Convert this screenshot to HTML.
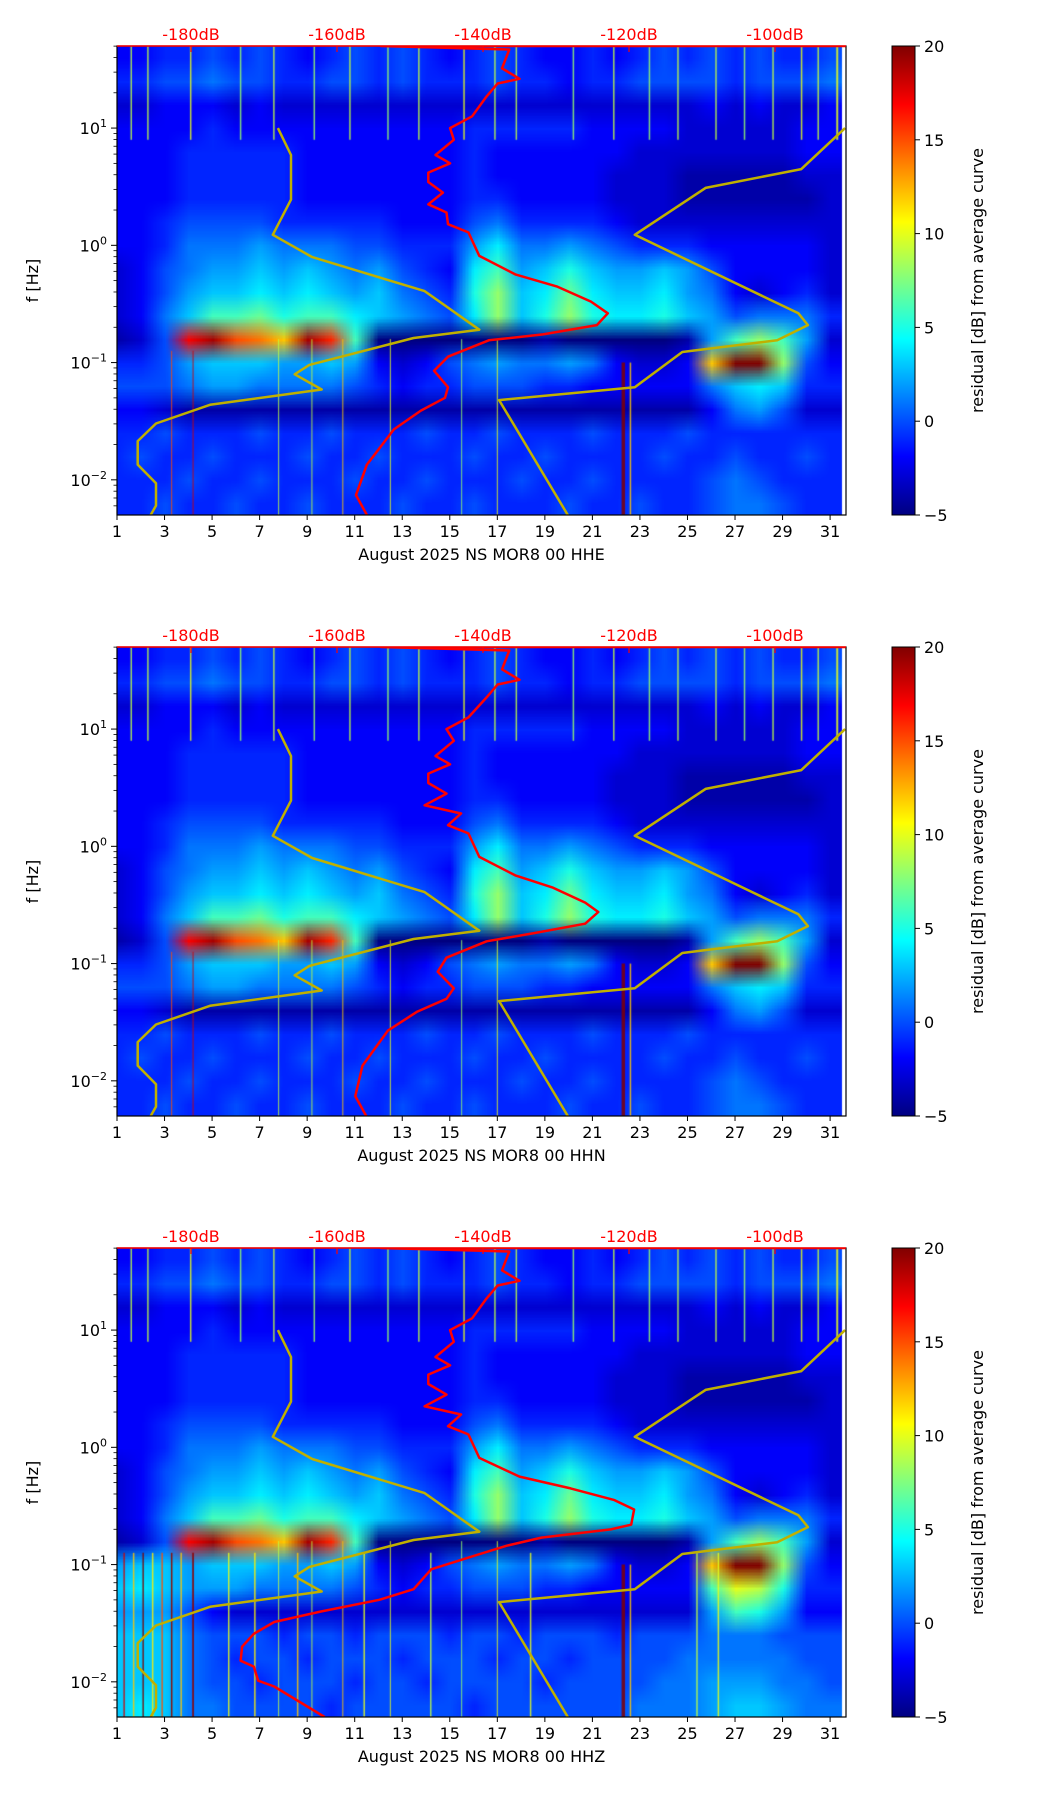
<!DOCTYPE html>
<html><head><meta charset="utf-8"><style>
html,body{margin:0;padding:0;background:#fff;}
#wrap{position:relative;width:1052px;height:1806px;overflow:hidden;font-family:"DejaVu Sans","Liberation Sans",sans-serif;}
canvas,svg{position:absolute;left:0;top:0;}
</style></head><body>
<div id="wrap">
<canvas id="hm" width="1052" height="1806"></canvas>
<svg id="ov" width="1052" height="1806" xmlns="http://www.w3.org/2000/svg"></svg>
</div>
<script>
// ---------- data ----------
const panelTitles = ["August 2025 NS MOR8 00 HHE","August 2025 NS MOR8 00 HHN","August 2025 NS MOR8 00 HHZ"];
const dayTicks = [1,3,5,7,9,11,13,15,17,19,21,23,25,27,29,31];
const dbTicks = [-180,-160,-140,-120,-100];
const decadeTicks = [-2,-1,0,1];
const cbTicks = [-5,0,5,10,15,20];
const rowLogF = [1.6,1.4,1.2,1.0,0.8,0.6,0.4,0.2,0.0,-0.2,-0.4,-0.6,-0.8,-1.0,-1.2,-1.4,-1.6,-1.8,-2.0,-2.2];
const gridHH = [
[-2,-2,-1,-1,0,-1,0,-1,-2,-1,0,-1,0,-1,-2,-1,0,-1,-2,-2,-1,-2,-1,0,-1,0,-1,0,-1,-1,0],
[-1,-1,0,0,1,0,0,-1,-1,0,0,-1,0,-1,-1,-1,0,-1,-1,-2,-1,-1,0,0,0,0,-1,0,0,0,1],
[-3,-3,-2,-2,-2,-3,-2,-3,-3,-3,-3,-3,-3,-3,-3,-3,-3,-3,-3,-3,-3,-3,-3,-3,-3,-2,-3,-2,-3,-3,-2],
[-2,-2,-2,-2,-1,-2,-2,-2,-2,-2,-2,-2,-2,-2,-2,-1,-1,-1,-1,-1,-2,-2,-2,-2,-3,-3,-3,-3,-3,-2,-2],
[-2,-2,-2,-1,-1,-1,-1,-1,-2,-2,-2,-2,-2,-2,-2,-1,-2,-2,-2,-2,-2,-2,-3,-3,-3,-3,-3,-3,-3,-2,-2],
[-2,-2,-2,-1,-1,-1,-1,-1,-2,-2,-2,-2,-2,-2,-2,-1,-2,-2,-2,-2,-2,-3,-3,-3,-4,-4,-4,-4,-4,-3,-3],
[-2,-2,-2,-1,-1,-1,-1,-1,-2,-2,-2,-2,-2,-2,-2,-1,-1,-2,-2,-2,-2,-3,-3,-3,-4,-4,-4,-4,-4,-4,-3],
[-2,-2,-1,0,0,0,0,-1,-1,-1,-1,-1,-2,-2,-2,0,1,-1,-1,-1,-1,-2,-3,-3,-3,-3,-3,-3,-3,-3,-3],
[-2,-2,-1,1,1,1,2,1,1,1,0,0,-1,-1,-1,2,4,1,1,2,1,0,-1,-1,-1,-2,-2,-2,-2,-2,-3],
[-3,-2,0,1,2,2,3,2,3,2,1,2,0,-1,-2,4,6,2,3,5,3,2,2,3,2,0,-2,-2,-2,-2,-3],
[-3,-2,0,2,3,3,4,3,4,3,2,3,1,0,-1,5,8,3,4,7,4,3,3,4,2,1,-2,-3,-2,-1,-3],
[-3,-2,1,3,6,6,7,5,6,6,4,3,2,1,0,4,8,3,5,8,5,4,4,5,3,2,0,1,1,1,-1],
[-4,-3,0,17,19,15,14,12,19,16,6,-5,-5,-5,-5,-5,-5,-5,-4,-5,-5,-5,-5,-5,-4,2,6,8,6,2,-3],
[-1,-1,0,2,3,3,3,2,2,3,2,-2,-3,-2,0,1,2,1,1,2,1,-2,-3,-3,-2,12,20,20,8,0,-2],
[0,0,0,1,2,2,1,1,1,1,0,-1,-2,-1,-1,0,0,0,-1,-1,-2,-2,-2,-2,-2,1,3,4,3,-1,-1],
[-2,-2,-3,-4,-4,-4,-4,-4,-4,-4,-4,-4,-4,-4,-4,-4,-4,-4,-4,-4,-4,-4,-4,-4,-4,-2,1,2,0,-3,-3],
[-1,-1,0,-1,-1,-1,0,-1,-1,0,-1,-1,-1,0,-1,-1,0,-1,-1,-1,0,-1,-1,-1,0,-1,-1,-1,-1,-1,-1],
[-1,0,-1,-1,0,-1,-1,-1,0,-1,-1,0,-1,-1,-1,0,-1,-1,0,-1,-1,-1,-1,0,-1,-1,0,-1,-1,0,-1],
[-1,-1,-1,0,-1,-1,0,-1,-1,-1,0,-1,-1,0,-1,-1,-1,0,-1,-1,0,-1,-1,-1,-1,0,1,0,-1,-1,-1],
[-1,-1,0,-1,-1,0,-1,-1,0,-1,-1,-1,0,-1,-1,0,-1,-1,-1,0,-1,-1,0,-1,-1,0,1,1,0,-1,-1]
];
const gridHHZlow = [
[2,3,3,2,3,3,3,2,2,3,2,-2,-3,-2,0,1,2,1,1,2,1,-2,-3,-3,-2,12,20,20,8,0,-2],
[3,4,3,2,2,2,1,1,1,1,0,-1,-2,-1,-1,0,0,0,-1,-1,-2,-2,-2,-2,-2,6,10,9,5,-1,-1],
[2,2,2,0,-2,-3,-3,-3,-3,-3,-3,-3,-3,-3,-3,-3,-3,-3,-3,-3,-3,-3,-3,-3,-3,2,6,5,2,-2,-2],
[3,3,3,1,0,0,0,-1,0,0,-1,0,0,0,-1,0,0,-1,0,0,0,-1,0,0,0,1,1,1,0,0,0],
[3,3,3,1,0,-1,0,0,-1,0,0,0,-1,0,0,0,-1,0,0,-1,0,0,0,0,1,1,1,1,1,0,0],
[3,3,3,1,0,0,-1,0,0,0,-1,0,0,-1,0,0,0,0,-1,0,0,0,0,1,1,2,2,2,1,1,0],
[3,4,3,1,1,0,0,0,0,-1,0,0,0,0,0,-1,0,0,0,0,0,0,1,1,1,2,3,3,2,1,1]
];
// streaks: [day, logF top, logF bottom, value, width]
const streakDay = [1.6,2.3,4.1,6.2,7.6,9.3,10.8,12.4,13.7,15.6,16.9,17.8,20.2,21.9,23.4,24.6,26.2,27.4,28.6,29.8,30.5,31.3,22.3,22.6,4.2,3.3,10.5,15.5,17,12.5,7.8,9.2];
const streakTop = [1.7,1.7,1.7,1.7,1.7,1.7,1.7,1.7,1.7,1.7,1.7,1.7,1.7,1.7,1.7,1.7,1.7,1.7,1.7,1.7,1.7,1.7,-1.0,-1.0,-0.9,-0.9,-0.8,-0.8,-0.8,-0.8,-0.8,-0.8];
const streakBot = [0.9,0.9,0.9,0.9,0.9,0.9,0.9,0.9,0.9,0.9,0.9,0.9,0.9,0.9,0.9,0.9,0.9,0.9,0.9,0.9,0.9,0.9,-2.3,-2.3,-2.3,-2.3,-2.3,-2.3,-2.3,-2.3,-2.3,-2.3];
const streakVal = [9,9,10,8,9,8,9,8,9,10,9,9,8,9,8,9,9,8,9,10,9,10,20,12,18,15,12,8,10,10,9,9];
const streakW = [1.5,1.5,1.5,1.5,1.5,1.5,1.5,1.5,1.5,1.5,1.5,1.5,1.5,1.5,1.5,1.5,1.5,1.5,1.5,1.5,1.5,2,3.5,1.5,1,1,1,1,1,1,1,1];
const zStreakDay = [1.3,1.7,2.1,2.5,2.9,3.3,3.7,4.2,5.7,6.8,8.6,11.4,14.2,18.4,25.4,26.3];
const zStreakVal = [18,12,20,11,15,20,12,20,10,11,12,10,9,10,9,10];
// average PSD curves (logF, dB)
const redLogF_HHE = [1.7,1.7,1.67,1.51,1.42,1.38,1.27,1.10,1.0,0.9,0.77,0.7,0.62,0.54,0.45,0.35,0.28,0.18,0.11,-0.09,-0.25,-0.35,-0.48,-0.58,-0.68,-0.76,-0.81,-0.95,-1.07,-1.21,-1.30,-1.41,-1.57,-1.87,-2.13,-2.3];
const redDb_HHE = [-90,-154,-136.4,-137.4,-135,-138,-139.5,-141.5,-144.5,-144,-146.5,-144.5,-147.5,-147.5,-145.5,-147.5,-145,-144.8,-142,-140.5,-135.5,-129.9,-125.2,-122.9,-124.4,-131.8,-139.2,-144.8,-146.7,-144.8,-145.2,-148.5,-152.2,-155.9,-157.4,-155.9];
const redLogF_HHN = [1.7,1.7,1.67,1.51,1.42,1.38,1.27,1.10,1.0,0.9,0.77,0.7,0.62,0.54,0.45,0.35,0.28,0.18,0.11,-0.09,-0.25,-0.35,-0.48,-0.56,-0.66,-0.74,-0.81,-0.95,-1.07,-1.21,-1.30,-1.41,-1.57,-1.87,-2.13,-2.3];
const redDb_HHN = [-90,-154,-136.4,-137.4,-135,-138,-139.5,-142,-145,-144,-146.5,-144.5,-147.5,-147.5,-145,-148,-143,-144.8,-142,-140.5,-135.5,-130.5,-126,-124.2,-126,-133,-139.5,-145,-146.2,-144,-145,-149,-153,-156.5,-157.5,-156];
const redLogF_HHZ = [1.7,1.7,1.67,1.51,1.42,1.38,1.27,1.10,1.0,0.9,0.77,0.7,0.62,0.54,0.45,0.35,0.28,0.18,0.11,-0.09,-0.25,-0.35,-0.45,-0.53,-0.66,-0.70,-0.77,-0.84,-0.93,-1.04,-1.21,-1.30,-1.40,-1.49,-1.59,-1.70,-1.82,-1.87,-1.99,-2.04,-2.3];
const redDb_HHZ = [-90,-154,-136.4,-137.4,-135,-138,-139.5,-141.5,-144.5,-144,-146.5,-144.5,-147.5,-147.5,-145,-148,-143,-144.8,-142,-140.5,-135,-128,-122,-119.3,-119.7,-122.5,-132,-136.8,-141.5,-147.1,-149.5,-154.2,-162.2,-168.6,-171.4,-173,-173.2,-171.4,-170.8,-168.6,-161.7];
const nlnmLogF = [1.0,0.77,0.39,0.09,-0.10,-0.39,-0.72,-0.79,-1.02,-1.10,-1.23,-1.36,-1.52,-1.67,-1.87,-2.03,-2.22,-2.33];
const nlnmDb = [-168.1,-166.3,-166.3,-168.8,-163.4,-148.0,-140.5,-149.5,-163.8,-165.8,-162.1,-177.4,-184.8,-187.3,-187.3,-184.8,-184.8,-185.8];
const nhnmLogF = [1.0,0.65,0.49,0.09,-0.58,-0.68,-0.81,-0.91,-1.21,-1.32,-2.33];
const nhnmDb = [-90.4,-96.4,-109.5,-119.2,-96.8,-95.5,-99.7,-112.7,-119.2,-137.8,-128.1];

// ---------- layout ----------
const X0=117, X1=846, PH=469, TOPS=[46,647,1248], DAYPX=23.77, DEC=117.25;
const CBX=892, CBW=23;
const xDay = d => X0 + (d-1)*DAYPX;
const yF = (lf,top) => top + (1.7-lf)*DEC;
const xDb = db => 191 + (db+180)*7.3;
const vToFrac = v => Math.max(0,Math.min(1,(v+5)/25));
function jet(t){
  const c = x => Math.round(255*Math.max(0,Math.min(1,x)));
  return [c(1.5-Math.abs(4*t-3)), c(1.5-Math.abs(4*t-2)), c(1.5-Math.abs(4*t-1))];
}
const NS="http://www.w3.org/2000/svg";
const svg=document.getElementById('ov');
function mk(tag, attrs, parent){
  const e=document.createElementNS(NS,tag);
  for(const k in attrs) e.setAttribute(k,attrs[k]);
  (parent||svg).appendChild(e); return e;
}
const ctx=document.getElementById('hm').getContext('2d');

function gridFor(p){
  if(p<2) return gridHH;
  return gridHH.slice(0,13).concat(gridHHZlow);
}

for(let p=0;p<3;p++){
  const top=TOPS[p], bot=top+PH;
  const grid=gridFor(p);
  const oc=document.createElement('canvas'); oc.width=31; oc.height=rowLogF.length;
  const octx=oc.getContext('2d'); const img=octx.createImageData(31,rowLogF.length);
  for(let r=0;r<rowLogF.length;r++) for(let c=0;c<31;c++){
    const col=jet(vToFrac(grid[r][c])); const i=(r*31+c)*4;
    img.data[i]=col[0]; img.data[i+1]=col[1]; img.data[i+2]=col[2]; img.data[i+3]=255;
  }
  octx.putImageData(img,0,0);
  ctx.save(); ctx.beginPath(); ctx.rect(X0,top,X1-X0,PH); ctx.clip();
  ctx.imageSmoothingEnabled=true;
  ctx.drawImage(oc, xDay(0.5), yF(1.7,top), xDay(31.5)-xDay(0.5), yF(-2.3,top)-yF(1.7,top));
  for(let s=0;s<streakDay.length;s++){
    const col=jet(vToFrac(streakVal[s]));
    ctx.strokeStyle=`rgba(${col[0]},${col[1]},${col[2]},0.85)`; ctx.lineWidth=streakW[s];
    ctx.beginPath(); ctx.moveTo(xDay(streakDay[s]),yF(streakTop[s],top)); ctx.lineTo(xDay(streakDay[s]),yF(streakBot[s],top)); ctx.stroke();
  }
  if(p===2){
    for(let s=0;s<zStreakDay.length;s++){
      const col=jet(vToFrac(zStreakVal[s]));
      ctx.strokeStyle=`rgba(${col[0]},${col[1]},${col[2]},0.85)`; ctx.lineWidth=1.5;
      ctx.beginPath(); ctx.moveTo(xDay(zStreakDay[s]),yF(-0.9,top)); ctx.lineTo(xDay(zStreakDay[s]),yF(-2.3,top)); ctx.stroke();
    }
  }
  ctx.restore();

  const g=mk('g',{});
  
  
  const clipId='clip'+p;
  const cp=mk('clipPath',{id:clipId},g); mk('rect',{x:X0,y:top,width:X1-X0,height:PH},cp);
  const lines=mk('g',{'clip-path':`url(#${clipId})`},g);
  
  
  const poly=(lfs,dbs,color,w,name)=>{
    const pts=lfs.map((lf,i)=>xDb(dbs[i]).toFixed(1)+','+yF(lf,top).toFixed(1)).join(' ');
    const e=mk('polyline',{points:pts,fill:'none',stroke:color,'stroke-width':w,'stroke-linejoin':'round'},lines);
    
    
  };
  poly(nlnmLogF,nlnmDb,'#c0b000',2.5,'nlnm-curve');
  poly(nhnmLogF,nhnmDb,'#c0b000',2.5,'nhnm-curve');
  const rl=[redLogF_HHE,redLogF_HHN,redLogF_HHZ][p], rd=[redDb_HHE,redDb_HHN,redDb_HHZ][p];
  poly(rl,rd,'#ff0000',2.5,'average-psd-curve');
  const fr=mk('rect',{x:X0,y:top,width:X1-X0,height:PH,fill:'none',stroke:'#000','stroke-width':1.2},g);
  
  
  const tl=mk('line',{x1:X0,y1:top,x2:X1,y2:top,stroke:'#ff0000','stroke-width':1.5},g);
  
  
  dbTicks.forEach(db=>{
    const x=xDb(db);
    const tk=mk('line',{x1:x,y1:top,x2:x,y2:top+6,stroke:'#ff0000','stroke-width':1.2},g);
    
    
    const t=mk('text',{x:x,y:top-6,'text-anchor':'middle','font-size':16,fill:'#ff0000'},g);
    t.textContent=db+'dB';
    
    
  });
  dayTicks.forEach(d=>{
    const x=xDay(d);
    const tk=mk('line',{x1:x,y1:bot,x2:x,y2:bot+5,stroke:'#000','stroke-width':1},g);
    
    
    const t=mk('text',{x:x,y:bot+22,'text-anchor':'middle','font-size':16,fill:'#000'},g);
    t.textContent=d;
    
    
  });
  const xl=mk('text',{x:(X0+X1)/2,y:bot+45,'text-anchor':'middle','font-size':16,fill:'#000'},g);
  xl.textContent=panelTitles[p];
  
  
  decadeTicks.forEach(dc=>{
    const y=yF(dc,top);
    const tk=mk('line',{x1:X0-6,y1:y,x2:X0,y2:y,stroke:'#000','stroke-width':1},g);
    
    
    const t=mk('text',{x:X0-10,y:y+6,'text-anchor':'end','font-size':16,fill:'#000'},g);
    t.textContent='10';
    const ts=mk('tspan',{dy:-7,'font-size':11},t); ts.textContent=(dc<0?'\u2212':'')+Math.abs(dc);
    
    
  });
  for(let dc=-3;dc<=1;dc++) for(let m=2;m<=9;m++){
    const lf=dc+Math.log10(m); if(lf< -2.3||lf>1.7) continue;
    const y=yF(lf,top);
    const tk=mk('line',{x1:X0-3.5,y1:y,x2:X0,y2:y,stroke:'#000','stroke-width':0.8},g);
    
    
  }
  const yl=mk('text',{x:38,y:top+PH/2,'text-anchor':'middle','font-size':16,fill:'#000',transform:`rotate(-90 38 ${top+PH/2})`},g);
  yl.textContent='f [Hz]';
  
  
  const gid='cbg'+p;
  const lg=mk('linearGradient',{id:gid,x1:0,y1:1,x2:0,y2:0},g);
  for(let i=0;i<=8;i++){const c=jet(i/8); mk('stop',{offset:i/8,'stop-color':`rgb(${c[0]},${c[1]},${c[2]})`},lg);}
  const cb=mk('rect',{x:CBX,y:top,width:CBW,height:PH,fill:`url(#${gid})`,stroke:'#000','stroke-width':1},g);
  
  
  cbTicks.forEach(v=>{
    const y=top+PH-vToFrac(v)*PH;
    const tk=mk('line',{x1:CBX+CBW,y1:y,x2:CBX+CBW+5,y2:y,stroke:'#000','stroke-width':1},g);
    
    
    const t=mk('text',{x:CBX+CBW+9,y:y+6,'font-size':16,fill:'#000'},g);
    t.textContent=v<0?'\u2212'+Math.abs(v):v;
    
    
  });
  const cl=mk('text',{x:983,y:top+PH/2,'text-anchor':'middle','font-size':16,fill:'#000',transform:`rotate(-90 983 ${top+PH/2})`},g);
  cl.textContent='residual [dB] from average curve';
  
  
}
</script>
</body></html>
